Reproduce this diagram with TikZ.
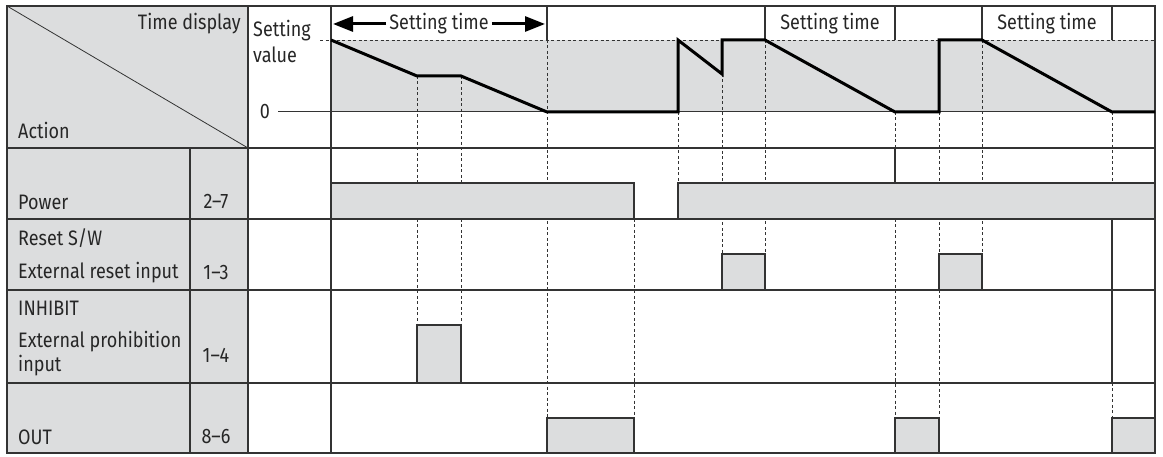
\documentclass[tikz,border=0pt]{standalone}
\usepackage{fontspec}
\setmainfont{Fira Sans}[FakeStretch=0.86]
\usetikzlibrary{arrows.meta}
\definecolor{gf}{HTML}{DCDDDE}
\definecolor{ln}{HTML}{333333}
\begin{document}
\begin{tikzpicture}[x=1bp,y=-1bp,
  grid/.style={ln,line width=1.1bp},
  dsh/.style={ln,line width=0.8bp,dash pattern=on 3bp off 2.5bp},
  wave/.style={black,line width=3bp,line join=miter},
  pulse/.style={fill=gf,draw=ln,line width=1.1bp},
  lbl/.style={font=\fontsize{21}{23}\selectfont,inner sep=0pt,text=black!85}]
\useasboundingbox (0,0) rectangle (1163,457);
\fill[gf] (7,6) rectangle (248,453);
\fill[gf] (331,40) rectangle (1155,112);
\foreach \x/\a/\b in {417/76/325,461/76/325,547/40/418,634/219/418,678/112/183,722/74/254,765/40/254,895/112/148,895/219/418,939/112/254,939/290/418,982/40/254,1112/112/219,1112/383/418}
  \draw[dsh] (\x,\a) -- (\x,\b);
\draw[dsh] (320,40) -- (1155,40);
\draw[pulse] (331,219) |- (634,183) -- (634,219);
\fill[gf] (678,183) rectangle (1155,219);
\draw[ln,line width=1.1bp] (678,219) |- (1155,183);
\draw[pulse] (722,290) |- (765,254) -- (765,290);
\draw[pulse] (939,290) |- (982,254) -- (982,290);
\draw[pulse] (417,383) |- (461,325) -- (461,383);
\draw[pulse] (547,453) |- (634,418) -- (634,453);
\draw[pulse] (895,453) |- (939,418) -- (939,453);
\fill[gf] (1112,418) rectangle (1155,453);
\draw[ln,line width=1.1bp] (1112,453) |- (1155,418);
\draw[grid] (7,6) rectangle (1155,453);
\foreach \y in {148,219,290,383} \draw[grid] (7,\y) -- (1155,\y);
\draw[grid] (248,6) -- (248,453);
\draw[grid] (331,6) -- (331,453);
\draw[grid] (190,148) -- (190,453);
\draw[ln,line width=0.8bp] (7,6) -- (248,148);
\foreach \x in {547,765,895,982,1112} \draw[grid] (\x,6) -- (\x,40);
\draw[grid] (895,148) -- (895,183);
\draw[grid] (1112,219) -- (1112,383);
\draw[ln,line width=1bp] (278,112) -- (1155,112);
\draw[wave] (331,40) -- (417,76) -- (461,76) -- (547,112) -- (678,112) -- (678,40) -- (722,74) -- (722,40) -- (765,40) -- (895,112) -- (939,112) -- (939,40) -- (982,40) -- (1112,112) -- (1155,112);
\node[lbl,anchor=east] (td) at (241,24) {Time display};
\node[lbl,anchor=west] (act) at (18,130) {Action};
\node[lbl,anchor=west] (sv1) at (253,31) {Setting};
\node[lbl,anchor=west] (sv2) at (253,55) {value};
\node[lbl] (zero) at (265,112) {0};
\node[lbl] (st1) at (439,24) {Setting time};
\node[lbl] (st2) at (830,24) {Setting time};
\node[lbl] (st3) at (1047,24) {Setting time};
\coordinate (al) at (333,24);
\coordinate (ar) at (545,24);
\draw[black,line width=3bp,-{Triangle[length=20bp,width=15bp]}] (st1.west) ++(-3,0) -- (al);
\draw[black,line width=3bp,-{Triangle[length=20bp,width=15bp]}] (st1.east) ++(3,0) -- (ar);
\node[lbl,anchor=west] (pw) at (18,202) {Power};
\node[lbl] (pwn) at (216,202) {2–7};
\node[lbl,anchor=west] (rs) at (18,238) {Reset S/W};
\node[lbl,anchor=west] (er) at (18,273) {External reset input};
\node[lbl] (ern) at (216,273) {1–3};
\node[lbl,anchor=west] (ih) at (18,308) {INHIBIT};
\node[lbl,anchor=west] (ep) at (18,342) {External prohibition};
\node[lbl,anchor=west] (ep2) at (18,366) {input};
\node[lbl] (epn) at (216,355) {1–4};
\node[lbl,anchor=west] (out) at (18,437) {OUT};
\node[lbl] (outn) at (216,437) {8–6};
\end{tikzpicture}
\end{document}
